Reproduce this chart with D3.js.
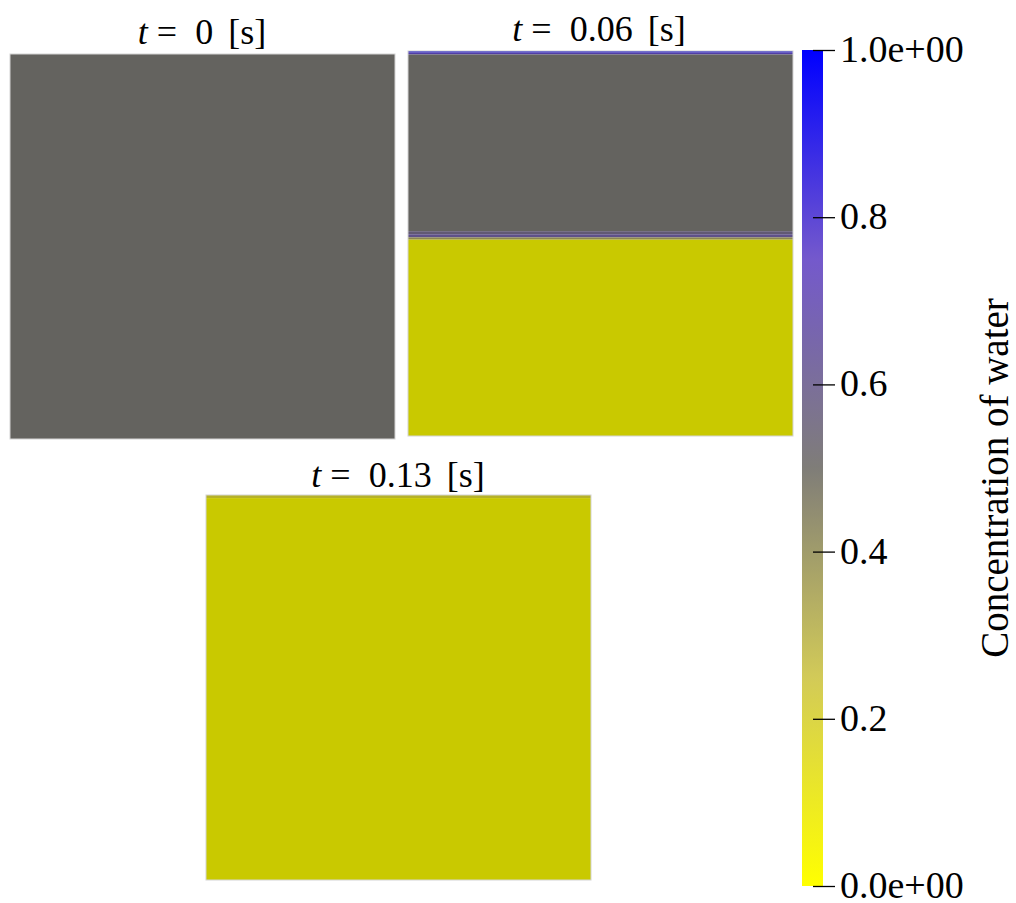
<!DOCTYPE html>
<html><head><meta charset="utf-8">
<script src="https://cdn.jsdelivr.net/npm/d3@7"></script>
<style>body{margin:0;background:#fff}svg{display:block}
text{font-family:"Liberation Serif","DejaVu Serif",serif;}</style>
</head><body>
<script>
// ---- data ----
const times = ["0", "0.06", "0.13"];
// layers of concentration in each snapshot: [top fraction, bottom fraction, concentration]
const layersT0   = [[0, 1, 0.5]];
const layersT006 = [[0, 0.004, 0.95], [0.004, 0.009, 0.78], [0.009, 0.468, 0.5], [0.468, 0.476, 0.58], [0.476, 0.484, 0.66], [0.484, 0.49, 0.35], [0.49, 1, 0.0]];
const layersT013 = [[0, 0.008, 0.14], [0.008, 1, 0.0]];
const colorStops = [0, 0.25, 0.5, 0.75, 1];
const colorStopColors = ["#ffff00", "#d2ca58", "#7f7d78", "#7459cc", "#0000ff"];
const tickValues = [0, 0.2, 0.4, 0.6, 0.8, 1.0];
const tickLabels = ["0.0e+00", "0.2", "0.4", "0.6", "0.8", "1.0e+00"];
const colorbarTitle = "Concentration of water";

const W = 1016, H = 903;
const svg = d3.select("body").append("svg").attr("width", W).attr("height", H);
const defs = svg.append("defs");

const color = d3.scaleLinear().domain(colorStops).range(colorStopColors).interpolate(d3.interpolateRgb);
const shade = c => { const r = d3.rgb(c); return d3.rgb(r.r * 0.79, r.g * 0.79, r.b * 0.79).formatHex(); };

const panels = [
  {layers: layersT0,   x: 10,  y: 54,  s: 385, title: times[0], tx: 202, ty: 44},
  {layers: layersT006, x: 408, y: 51,  s: 385, title: times[1], tx: 599, ty: 41},
  {layers: layersT013, x: 206, y: 495, s: 385, title: times[2], tx: 398, ty: 487}
];

panels.forEach(p => {
  const y = d3.scaleLinear().domain([0, 1]).range([p.y, p.y + p.s]);
  const g = svg.append("g");
  g.selectAll("rect.l").data(p.layers).join("rect")
    .attr("x", p.x).attr("width", p.s)
    .attr("y", d => y(d[0])).attr("height", d => y(d[1]) - y(d[0]))
    .attr("fill", d => shade(color(d[2])));
  g.append("rect").attr("x", p.x).attr("y", p.y).attr("width", p.s).attr("height", p.s)
    .attr("fill", "none").attr("stroke", "#d4d4d4").attr("stroke-width", 1);
  const t = svg.append("text").attr("x", p.tx).attr("y", p.ty).attr("text-anchor", "middle")
    .attr("font-size", 36).attr("fill", "#000");
  t.append("tspan").attr("font-style", "italic").text("t");
  t.append("tspan").attr("dx", 9).text("=");
  t.append("tspan").attr("dx", 18).text(p.title);
  t.append("tspan").attr("dx", 15).text("[s]");
});

// ---- colorbar ----
const cbX = 802, cbW = 21, cbTop = 50, cbBot = 886;
const cy = d3.scaleLinear().domain([0, 1]).range([cbBot, cbTop]);
const grad = defs.append("linearGradient").attr("id", "cb").attr("x1", 0).attr("y1", 1).attr("x2", 0).attr("y2", 0);
grad.selectAll("stop").data(d3.range(0, 1.0001, 0.05)).join("stop")
  .attr("offset", d => d).attr("stop-color", d => color(d));
svg.append("rect").attr("x", cbX).attr("y", cbTop).attr("width", cbW).attr("height", cbBot - cbTop).attr("fill", "url(#cb)");

const axis = d3.axisRight(cy).tickValues(tickValues).tickFormat((d, i) => tickLabels[i]).tickSize(22).tickPadding(5);
const ag = svg.append("g").attr("transform", `translate(${cbX + 11},0)`).call(axis);
ag.select(".domain").remove();
ag.selectAll(".tick line").attr("stroke", "#000").attr("stroke-width", 1.3);
ag.selectAll(".tick text").attr("font-family", null).attr("font-size", 38).attr("fill", "#000").attr("dy", "0.3em");

svg.append("text").attr("transform", `translate(1008,${(cbTop + cbBot) / 2 + 10}) rotate(-90)`)
  .attr("text-anchor", "middle").attr("font-size", 39).attr("fill", "#000")
  .text(colorbarTitle);
</script>
</body></html>
